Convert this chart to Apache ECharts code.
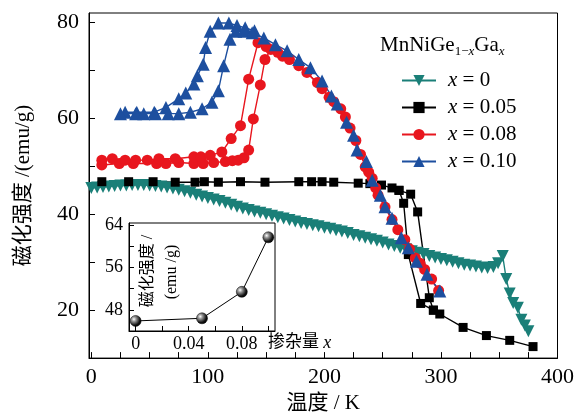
<!DOCTYPE html>
<html>
<head>
<meta charset="utf-8">
<script src="https://cdn.jsdelivr.net/npm/echarts@6/dist/echarts.min.js"></script>
<style>
html,body{margin:0;padding:0;background:#fff;}
#chart{width:577px;height:419px;}
</style>
</head>
<body>
<div id="chart"></div>
<script>
// ---------------- data ----------------
// x = 0 : temperature (K) and magnetization (emu/g)
const greenT = [0,5,10,15,20,25,30,35,40,45,50,55,60,65,70,75,80,85,90,95,100,105,110,115,120,125,130,135,140,145,150,155,160,165,170,175,180,185,190,195,200,205,210,215,220,225,230,235,240,245,250,255,260,265,270,275,280,285,290,295,300,305,310,315,320,325,330,335,340,345,349,353,356,359,362,366,369,372,375];
const greenM = [45.5,45.6,45.7,45.8,45.9,46.0,46.0,46.1,46.1,46.1,46.0,45.9,45.8,45.6,45.4,45.1,44.8,44.5,44.1,43.7,43.4,43.1,42.8,42.4,42.0,41.6,41.2,40.9,40.6,40.3,40.0,39.7,39.4,39.1,38.8,38.5,38.2,38.0,37.7,37.5,37.2,37.0,36.7,36.4,36.1,35.7,35.4,35.1,34.8,34.5,34.1,33.7,33.4,33.0,32.7,32.3,32.0,31.7,31.3,31.0,30.7,30.4,30.1,29.8,29.5,29.3,29.1,28.9,28.8,29.0,29.8,31.3,26.5,23.5,21.5,20.5,18.0,16.8,15.6];
// x = 0.05 : main branch and second branch of the loop
const blackMainT = [9,32,53,72,89,97,109,128,149,178,189,198,208,229,239,249,258,264,274,280,290,293.5,299,319,339,359,379];
const blackMainM = [46.8,46.8,46.8,46.7,46.7,46.8,46.7,46.8,46.7,46.8,46.8,46.8,46.7,46.5,46.4,46.1,45.5,45.0,44.2,40.5,22.6,20.0,19.2,16.4,14.7,13.7,12.4];
const blackLoopT = [264,268,272,282.6,293.5];
const blackLoopM = [45.0,42.3,31.6,21.4,20.0];
// x = 0.08
const redLowT = [9,24,36,56,64,75,88,96,105,115,121,126,131,135,139,145,149,154,164,178,194,204,214,218,227,235,241,246,258,269,278,286,298];
const redLowM = [50.3,50.6,50.6,50.6,50.6,50.8,50.6,50.6,50.8,51.0,51.2,51.3,51.8,53.4,59.9,67.0,72.3,74.4,73.0,71.0,67.5,64.4,62.0,60.3,55.4,49.9,47.5,44.0,38.9,34.7,30.9,28.5,24.1];
const redHighT = [9,18,29,38,48,58,72,88,94,102,112,120,128,135,143,150,160,170,185,198,208,222,231,238,244,252,263,273,282,292];
const redHighM = [51.3,51.6,51.3,51.3,51.3,51.6,51.6,52.0,52.0,52.3,53.0,55.8,58.5,68.2,75.8,75.0,73.8,72.3,69.6,66.2,63.5,58.0,52.5,48.8,45.5,41.5,36.8,32.8,29.8,26.5];
// x = 0.10
const blueEarlyT = [29,39,54,64,75,81,88,91,96,98,102,109,118,125,132,140];
const blueEarlyM = [61.3,61.3,61.3,62.3,64.1,65.3,67.2,68.9,71.3,74.8,78.2,79.9,79.9,79.4,78.9,78.3];
const blueLateT = [25,38,45,55,66,75,85,95,103.5,109,113.5,119,124,131,138,148,158,168,178,188,198,206,211,219,225,228,236,241,248,252,258,266,272,279,288,299];
const blueLateM = [61.0,61.0,61.0,61.0,61.0,61.0,61.3,62.0,63.4,65.8,71.0,76.5,78.2,78.2,77.9,76.8,75.4,74.1,72.3,70.6,67.8,64.7,63.0,59.2,56.5,53.4,51.0,47.1,44.0,41.6,39.2,35.1,33.0,30.2,27.5,24.0];
// inset: doping level vs low-temperature magnetization
const dopingX = [0, 0.05, 0.08, 0.10];
const lowTempM = [45.9, 46.4, 51.4, 61.7];
// ticks / labels
const mainXTicks = [0,25,50,75,100,125,150,175,200,225,250,275,300,325,350,375,400];
const mainXLabels = [0,100,200,300,400];
const mainYTicks = [10,20,30,40,50,60,70,80];
const mainYLabels = [20,40,60,80];
const insetXTicks = [0,0.02,0.04,0.06,0.08,0.10];
const insetXLabels = [0,0.04,0.08];
const insetYTicks = [44,48,52,56,60,64];
const insetYLabels = [48,56,64];
const seriesNames = ['x = 0','x = 0.05','x = 0.08','x = 0.10'];

// ---------------- chart ----------------
const zip = (a, b) => a.map((v, i) => [v, b[i]]);
const SERIF = '"Liberation Serif", "Noto Sans CJK SC", serif';
const GREEN = '#1a7f78', RED = '#e8161e', BLUE = '#1d4f9f';

const chart = echarts.init(document.getElementById('chart'), null, {renderer: 'canvas'});

function axisCommon(ticks, labels, fs, margin, len, fmt) {
  return {
    axisLine: {onZero: false, lineStyle: {color: '#000', width: 1}},
    axisTick: {inside: true, length: len, customValues: ticks, lineStyle: {color: '#000', width: 1}},
    axisLabel: {customValues: labels, fontSize: fs, color: '#000', margin: margin, fontFamily: SERIF,
      formatter: fmt || (v => String(v))},
    splitLine: {show: false}
  };
}

const lineSeries = (name, data, color, symbol, size, rotate) => ({
  type: 'line', name: name, data: data, xAxisIndex: 0, yAxisIndex: 0,
  symbol: symbol, symbolSize: size, symbolRotate: rotate || 0, showSymbol: true,
  lineStyle: {color: color, width: 1.4},
  itemStyle: {color: color, borderWidth: 0, opacity: 1},
  emphasis: {disabled: true}, silent: true
});

const option = {
  animation: false,
  backgroundColor: '#fff',
  grid: [
    {left: 89, top: 13, right: 19, bottom: 60, show: true, borderColor: '#000', borderWidth: 1, containLabel: false},
    {left: 129, top: 223, width: 146, height: 108, show: true, borderColor: '#000', borderWidth: 1,
      backgroundColor: '#fff', z: 5}
  ],
  xAxis: [
    Object.assign({type: 'value', gridIndex: 0, min: -2, max: 400,
      name: '温度 / K', nameLocation: 'middle', nameGap: 33,
      nameTextStyle: {fontSize: 21, color: '#000', fontFamily: SERIF}},
      axisCommon(mainXTicks, mainXLabels, 22, 8, 6)),
    Object.assign({type: 'value', gridIndex: 1, min: -0.005, max: 0.105, z: 6},
      axisCommon(insetXTicks, insetXLabels, 18, 4, 5, v => (v === 0 ? '0' : v.toFixed(2))))
  ],
  yAxis: [
    Object.assign({type: 'value', gridIndex: 0, min: 10, max: 82,
      name: '磁化强度 /(emu/g)', nameLocation: 'middle', nameGap: 55,
      nameTextStyle: {fontSize: 21, color: '#000', fontFamily: SERIF}},
      axisCommon(mainYTicks, mainYLabels, 22, 10, 6)),
    Object.assign({type: 'value', gridIndex: 1, min: 44, max: 64.4, z: 6},
      axisCommon(insetYTicks, insetYLabels, 18, 6, 5))
  ],
  legend: {
    show: true, orient: 'vertical', left: 396, top: 63,
    data: seriesNames, selectedMode: false,
    itemWidth: 34, itemHeight: 14, itemGap: 2,
    textStyle: {fontSize: 21, color: '#000', fontFamily: SERIF, lineHeight: 25, padding: [0, 0, 0, 7],
      rich: {i: {fontStyle: 'italic', fontSize: 21, fontFamily: SERIF}}},
    formatter: name => name.replace('x', '{i|x}')
  },
  graphic: [
    {type: 'text', left: 380, top: 32, z: 10, silent: true,
      style: {text: 'MnNiGe{s|1−}{si|x}Ga{si|x}', fill: '#000', font: '21px ' + SERIF,
        rich: {
          s: {fontSize: 13, fontFamily: SERIF, verticalAlign: 'bottom', lineHeight: 13, fill: '#000'},
          si: {fontSize: 13, fontFamily: SERIF, fontStyle: 'italic', verticalAlign: 'bottom', lineHeight: 13, fill: '#000'}
        }, lineHeight: 26}},
    {type: 'text', x: 148, y: 271, rotation: Math.PI / 2, z: 10, silent: true,
      style: {text: '磁化强度 /', fill: '#000', font: '16px ' + SERIF, align: 'center', verticalAlign: 'middle'}},
    {type: 'text', x: 172, y: 272, rotation: Math.PI / 2, z: 10, silent: true,
      style: {text: '(emu /g)', fill: '#000', font: '16px ' + SERIF, align: 'center', verticalAlign: 'middle'}},
    {type: 'text', x: 268, y: 343, z: 10, silent: true,
      style: {text: '掺杂量 {i|x}', fill: '#000', font: '17px ' + SERIF, verticalAlign: 'middle',
        rich: {i: {fontStyle: 'italic', fontSize: 18, fontFamily: SERIF, fill: '#000'}}}}
  ],
  series: [
    lineSeries(seriesNames[0], zip(greenT, greenM), GREEN, 'triangle', 12, 180),
    lineSeries(seriesNames[1], zip(blackMainT, blackMainM), '#000', 'rect', 9),
    lineSeries(seriesNames[1], zip(blackLoopT, blackLoopM), '#000', 'rect', 9),
    lineSeries(seriesNames[2], zip(redLowT, redLowM), RED, 'circle', 11),
    lineSeries(seriesNames[2], zip(redHighT, redHighM), RED, 'circle', 11),
    lineSeries(seriesNames[3], zip(blueEarlyT, blueEarlyM), BLUE, 'triangle', 13),
    lineSeries(seriesNames[3], zip(blueLateT, blueLateM), BLUE, 'triangle', 13),
    {
      type: 'line', name: 'inset', data: zip(dopingX, lowTempM), xAxisIndex: 1, yAxisIndex: 1, z: 7,
      symbol: 'circle', symbolSize: 11, showSymbol: true, silent: true,
      lineStyle: {color: '#000', width: 1},
      itemStyle: {color: {type: 'radial', x: 0.35, y: 0.35, r: 0.75,
        colorStops: [{offset: 0, color: '#ffffff'}, {offset: 0.25, color: '#9a9a9a'}, {offset: 0.7, color: '#111'}, {offset: 1, color: '#000'}]},
        borderColor: '#000', borderWidth: 0.5}
    }
  ]
};
chart.setOption(option);
</script>
</body>
</html>
